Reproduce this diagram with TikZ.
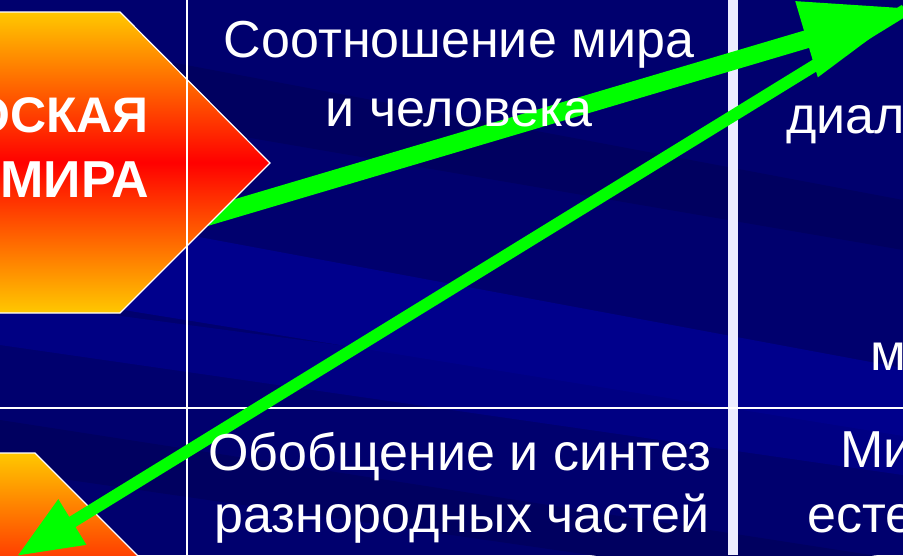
\documentclass[tikz,border=0pt]{standalone}
\usepackage{fontspec}
\setmainfont{Liberation Sans}
\usepackage{tikz}
\usetikzlibrary{arrows.meta}
\definecolor{navy}{RGB}{0,0,110}
\definecolor{navylight}{RGB}{0,0,140}
\definecolor{navydark}{RGB}{0,0,96}
\definecolor{arrowgreen}{RGB}{0,255,0}
\definecolor{hexyellow}{RGB}{255,200,0}
\definecolor{hexred}{RGB}{255,0,0}
\definecolor{barwhite}{RGB}{236,236,255}

\tikzset{
  celltext/.style={text=white,inner sep=0pt,font=\fontsize{52}{60}\selectfont},
  titletext/.style={text=white,inner sep=0pt,font=\bfseries\fontsize{50}{60}\selectfont},
  hexfill/.style={top color=hexyellow,bottom color=hexyellow,middle color=hexred,draw=white,line width=1.2pt},
}

\begin{document}
\begin{tikzpicture}[x=1pt,y=-1pt]
\useasboundingbox (0,0) rectangle (903,555);
\clip (0,0) rectangle (903,555);
\fill[navy] (0,0) rectangle (903,555);

% streaks of the background
\fill[navydark] (0,30) -- (903,200) -- (903,250) -- (0,95) -- cycle;
\fill[navylight] (0,200) -- (903,368) -- (903,436) -- (0,290) -- cycle;
\fill[navydark] (0,420) -- (903,560) -- (903,600) -- (0,470) -- cycle;
\fill[navylight,opacity=0.7] (0,300) -- (903,420) -- (903,475) -- (0,345) -- cycle;

% grid
\draw[barwhite,line width=10pt] (733,0) -- (733,555);
\draw[white,line width=2.5pt] (0,408) -- (903,408);

% arrow from the upper block
\coordinate (hexout) at (186,223);
\coordinate (dialtip) at (912,8);
\draw[arrowgreen,line width=18pt,-{Triangle[length=110pt,width=74pt]}] (hexout) -- (dialtip);

% blocks on the left
\draw[hexfill] (-300,12) -- (120,12) -- (270,163) -- (120,313) -- (-300,313) -- cycle; % upper
\draw[hexfill] (-300,453) -- (35,453) -- (186,604) -- (35,755) -- (-300,755) -- cycle; % lower

\draw[white,line width=2.5pt] (187,0) -- (187,555);

% arrow back to the lower block
\coordinate (dialtail) at (905,10);
\coordinate (hexin) at (17,556);
\draw[arrowgreen,line width=12pt,-{Triangle[length=65pt,width=50pt]}] (dialtail) -- (hexin);

% texts
\node[titletext,anchor=base east] (pic1) at (149,132) {ОСКАЯ};
\node[titletext,font=\bfseries\fontsize{52}{60}\selectfont,anchor=base east] (pic2) at (149,197) {МИРА};

\node[celltext,anchor=base] (rel1) at (459,57) {Соотношение мира};
\node[celltext,anchor=base] (rel2) at (459,126) {и человека};
\node[celltext,anchor=base] (syn1) at (460,470) {Обобщение и синтез};
\node[celltext,anchor=base] (syn2) at (462,532) {разнородных частей};

\node[celltext,anchor=base west] (dia) at (786,133) {диал};
\node[celltext,anchor=base west] (mm) at (870,370) {м};
\node[celltext,anchor=base west] (mi) at (840,467) {Ми};
\node[celltext,anchor=base west] (est) at (807,532) {есте};
\end{tikzpicture}
\end{document}
